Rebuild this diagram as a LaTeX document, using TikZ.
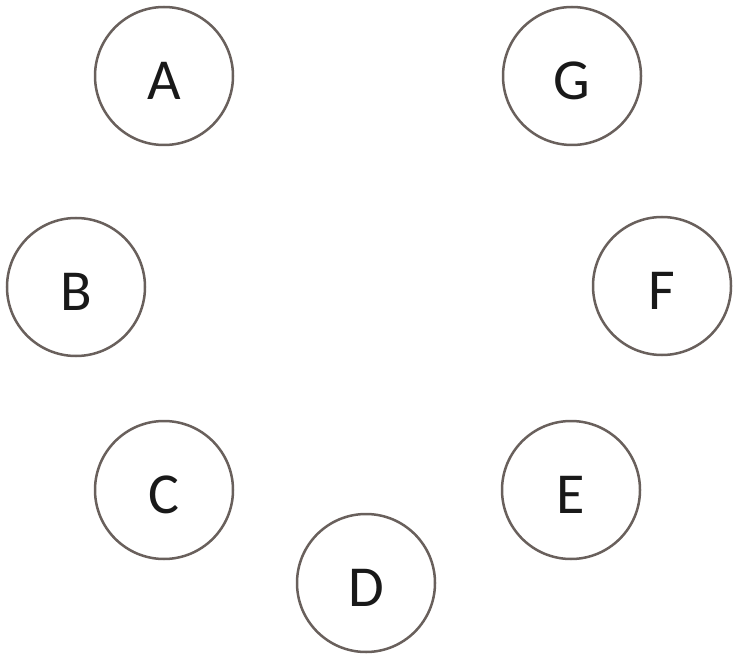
\documentclass[tikz,border=0pt]{standalone}
\usepackage{fontspec}
\setmainfont{Carlito}
\definecolor{ringcol}{RGB}{105,96,92}
\definecolor{txtcol}{RGB}{25,25,25}
\begin{document}
\begin{tikzpicture}[x=1pt,y=1pt,
  vtx/.style={circle,draw=ringcol,line width=2.5pt,minimum size=138pt,inner sep=0pt,
    text=txtcol,font=\fontsize{58}{60}\selectfont,text height=47pt,text depth=0pt}]
\useasboundingbox (0,0) rectangle (733,657);
\node[vtx] (A) at (164,581) {A};
\node[vtx] (G) at (572,581) {G};
\node[vtx] (B) at (76,370) {B};
\node[vtx] (F) at (662,371) {F};
\node[vtx] (C) at (164,167) {C};
\node[vtx] (E) at (571,167) {E};
\node[vtx] (D) at (366,74) {D};
\end{tikzpicture}
\end{document}
